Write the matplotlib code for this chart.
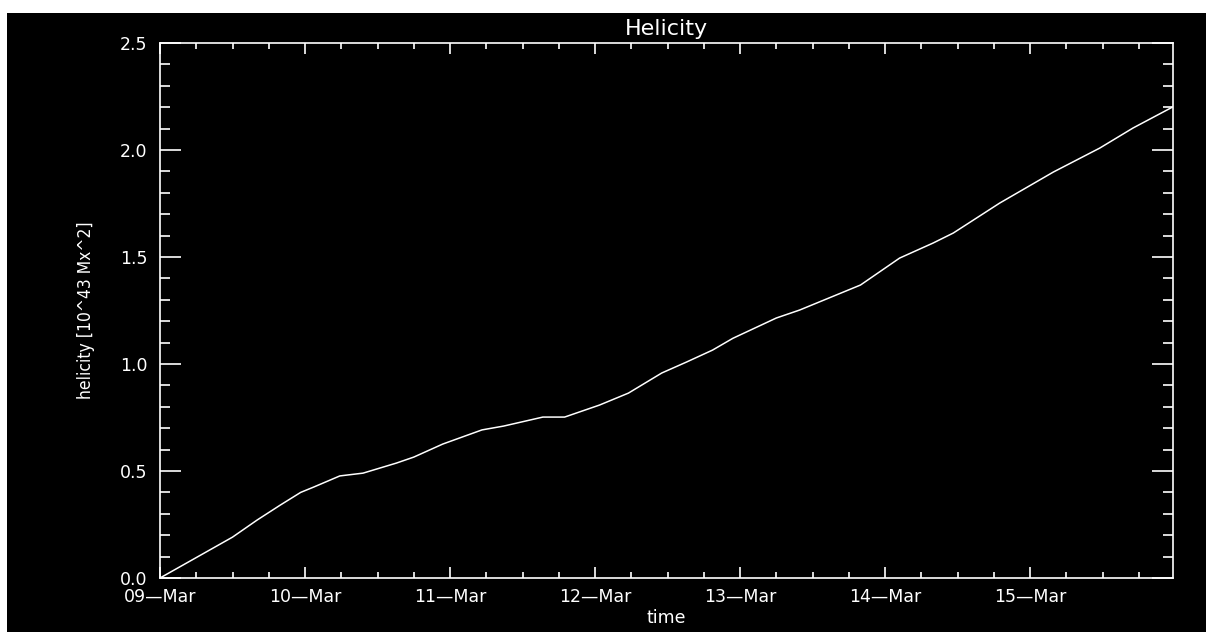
import datetime as dt
import matplotlib
matplotlib.use("Agg")
import matplotlib.pyplot as plt
import matplotlib.dates as mdates
from matplotlib.patches import Rectangle
from matplotlib.ticker import MultipleLocator

# helicity accumulation, time in days from 09-Mar 00:00
t_days = [0.00, 0.22, 0.50, 0.67, 0.83, 0.97, 1.06, 1.24, 1.40, 1.63, 1.75,
          1.95, 2.22, 2.37, 2.64, 2.79, 3.03, 3.23, 3.46, 3.63, 3.81, 3.95,
          4.25, 4.41, 4.83, 5.10, 5.33, 5.47, 5.79, 6.16, 6.48, 6.71, 6.98]
helicity = [0.000, 0.084, 0.191, 0.271, 0.341, 0.400, 0.425, 0.477, 0.490,
            0.537, 0.565, 0.626, 0.692, 0.710, 0.752, 0.752, 0.808, 0.864,
            0.958, 1.009, 1.065, 1.120, 1.215, 1.252, 1.369, 1.495, 1.565,
            1.612, 1.752, 1.897, 2.009, 2.103, 2.200]

t0 = dt.datetime(2011, 3, 9)
t_end = t0 + dt.timedelta(days=6.985)
times = [t0 + dt.timedelta(days=d) for d in t_days]

fg = "white"
fig = plt.figure(figsize=(12.06, 6.32), dpi=100, facecolor="white")
fig.patches.append(Rectangle((7 / 1206, 0), 1 - 7 / 1206, (632 - 13) / 632,
                             transform=fig.transFigure, facecolor="black",
                             edgecolor="none", zorder=-1))

ax = fig.add_axes([160 / 1206, (632 - 578) / 632, 1013 / 1206, 535 / 632])
ax.set_facecolor("black")

ax.plot(times, helicity, color=fg, linewidth=1.1)

ax.set_xlim(t0, t_end)
ax.set_ylim(0, 2.5)

ax.xaxis.set_major_locator(mdates.DayLocator())
ax.xaxis.set_minor_locator(mdates.HourLocator(byhour=[6, 12, 18]))
ax.xaxis.set_major_formatter(mdates.DateFormatter("%d\u2014%b"))
ax.yaxis.set_major_locator(MultipleLocator(0.5))
ax.yaxis.set_minor_locator(MultipleLocator(0.1))
ax.yaxis.set_major_formatter(lambda v, p: f"{v:.1f}")

for s in ax.spines.values():
    s.set_color(fg)
    s.set_linewidth(1.2)

ax.tick_params(axis="x", which="major", direction="in", length=8, width=1.2,
               top=True, bottom=True, colors=fg, labelsize=12.5, pad=7.5)
ax.tick_params(axis="x", which="minor", direction="in", length=4.3, width=1.2,
               top=True, bottom=True, colors=fg)
ax.tick_params(axis="y", which="major", direction="in", length=15, width=1.2,
               left=True, right=True, colors=fg, labelsize=12.5, pad=9)
ax.tick_params(axis="y", which="minor", direction="in", length=7.5, width=1.2,
               left=True, right=True, colors=fg)

# keep the end labels inside the axis range
fig.canvas.draw()
ylabels = ax.get_yticklabels()
ylabels[0].set_va("baseline")
ylabels[-1].set_va("top")

ax.set_title("Helicity", color=fg, fontsize=16, pad=5.5)
ax.set_xlabel("time", color=fg, fontsize=12.5, labelpad=2)
ax.set_ylabel("helicity [10^43 Mx^2]", color=fg, fontsize=12.5,
              fontstretch="condensed", labelpad=18)

fig.savefig("out.png", dpi=100, facecolor=fig.get_facecolor())
